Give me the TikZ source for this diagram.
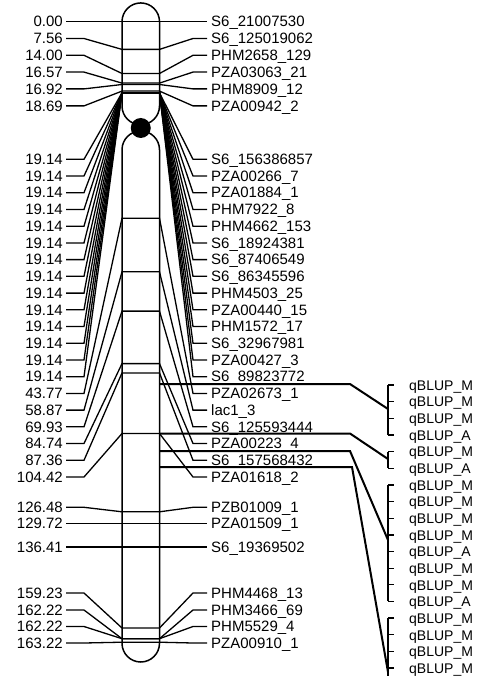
\documentclass[tikz,border=0pt]{standalone}
\usepackage{fontspec}
\setmainfont{Liberation Sans}
\usetikzlibrary{positioning}

\begin{document}
\begin{tikzpicture}[x=1pt,y=-1pt,
  chrom/.style={line width=1.5pt},
  link/.style={line width=1.3pt},
  qlink/.style={line width=2pt},
  lab/.style={inner ysep=0pt,text height=10.5pt,text depth=0pt,font=\fontsize{15}{17}\selectfont},
  lmark/.style={lab,anchor=east,inner xsep=3pt},
  rmark/.style={lab,anchor=west,inner xsep=4pt},
  qname/.style={lab,anchor=west,inner xsep=1pt,font=\fontsize{14}{16}\selectfont}]
  \useasboundingbox (0,0) rectangle (476,676);
  % markers: number / cM / name / label row / position on the chromosome
  \foreach \n/\cm/\mk/\row/\pos in {
    1/0.00/S6\_21007530/21.7/21.7,
    2/7.56/S6\_125019062/38.5/49.4,
    3/14.00/PHM2658\_129/55.3/73.5,
    4/16.57/PZA03063\_21/72.1/83.1,
    5/16.92/PHM8909\_12/88.9/84.5,
    6/18.69/PZA00942\_2/105.9/91.1,
    7/19.14/S6\_156386857/159.3/92.8,
    8/19.14/PZA00266\_7/176.0/92.8,
    9/19.14/PZA01884\_1/192.7/92.8,
    10/19.14/PHM7922\_8/209.5/92.8,
    11/19.14/PHM4662\_153/226.2/92.8,
    12/19.14/S6\_18924381/242.9/92.8,
    13/19.14/S6\_87406549/259.6/92.8,
    14/19.14/S6\_86345596/276.3/92.8,
    15/19.14/PHM4503\_25/293.1/92.8,
    16/19.14/PZA00440\_15/309.8/92.8,
    17/19.14/PHM1572\_17/326.5/92.8,
    18/19.14/S6\_32967981/343.2/92.8,
    19/19.14/PZA00427\_3/359.9/92.8,
    20/19.14/S6\_89823772/376.7/92.8,
    21/43.77/PZA02673\_1/393.4/218.2,
    22/58.87/lac1\_3/410.1/271.8,
    23/69.93/S6\_125593444/426.8/311.1,
    24/84.74/PZA00223\_4/443.5/363.6,
    25/87.36/S6\_157568432/460.3/372.9,
    26/104.42/PZA01618\_2/477.0/433.5,
    27/126.48/PZB01009\_1/507.3/511.8,
    28/129.72/PZA01509\_1/523.3/523.3,
    29/136.41/S6\_19369502/547.0/547.0,
    30/159.23/PHM4468\_13/593.0/628.0,
    31/162.22/PHM3466\_69/610.0/638.7,
    32/162.22/PHM5529\_4/626.5/638.7,
    33/163.22/PZA00910\_1/643.0/642.2}{
    \node[lmark] (l\n) at (66,\row) {\cm};
    \node[rmark] (r\n) at (207,\row) {\mk};
    \coordinate (cl\n) at (122,\pos);
    \coordinate (cr\n) at (159.5,\pos);
    \draw[link] (l\n) -- (84,\row) -- (cl\n) -- (cr\n) -- (193,\row) -- (r\n);
  }
  % chromosome
  \draw[chrom] (122,106) -- (122,21.7) arc[start angle=180,end angle=360,radius=18.75]
    -- (159.5,106) arc[start angle=0,end angle=180,radius=18.75] -- cycle;
  \draw[chrom] (122,643.25) -- (122,149.75) arc[start angle=180,end angle=360,radius=18.75]
    -- (159.5,643.25) arc[start angle=0,end angle=180,radius=18.75] -- cycle;
  \fill (140.75,128) circle[radius=10];
  % QTL names
  \foreach \i/\q in {1/M,2/M,3/M,4/A,5/M,6/A,7/M,8/M,9/M,10/M,11/A,12/M,13/M,14/A,15/M,16/M,17/M,18/M}{
    \node[qname] (q\i) at (408,{385+16.65*(\i-1)}) {qBLUP\_\q};
    \coordinate (t\i) at (388,{385+16.65*(\i-1)});
    \draw[link] (t\i) -- ++(6,0);
  }
  % brackets
  \draw[link] (t1) -- (t4);
  \draw[link] (t5) -- (t6);
  \draw[link] (t7) -- (t14);
  \draw[link] (t15) -- (388,680);
  % QTL connectors
  \coordinate (qa) at (159.5,384);
  \coordinate (qb) at (159.5,433.5);
  \coordinate (qc) at (159.5,451);
  \coordinate (qd) at (159.5,467);
  \coordinate (ma) at (388,409);
  \coordinate (mb) at (388,459);
  \coordinate (mc) at (388,540);
  \coordinate (md) at (388,672);
  \draw[qlink] (qa) -- (350,384) -- (ma);
  \draw[qlink] (qb) -- (350,433.5) -- (mb);
  \draw[qlink] (qc) -- (350,451) -- (mc);
  \draw[qlink] (qd) -- (352,467) -- (md);
\end{tikzpicture}
\end{document}
